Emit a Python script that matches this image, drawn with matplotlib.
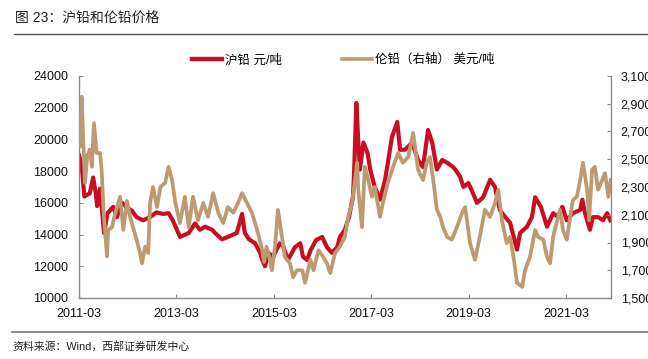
import matplotlib
matplotlib.use("Agg")
import matplotlib.pyplot as plt
import matplotlib.ticker as mticker
from matplotlib.lines import Line2D
import pandas as pd

plt.rcParams['font.family'] = ['Liberation Sans', 'Noto Sans CJK SC', 'DejaVu Sans']

# ---- data ----
shfe_dates = ["2011-03-01", "2011-03-21", "2011-04-10", "2011-05-21", "2011-06-15", "2011-07-05",
              "2011-07-15", "2011-08-06", "2011-09-05", "2011-10-01", "2011-11-12", "2011-12-10",
              "2012-01-18", "2012-02-24", "2012-04-01", "2012-05-06", "2012-06-24", "2012-08-15",
              "2012-10-01", "2012-11-21", "2013-01-01", "2013-02-01", "2013-03-28", "2013-06-01",
              "2013-07-18", "2013-08-24", "2013-10-01", "2013-11-24", "2013-12-15", "2014-02-06",
              "2014-03-21", "2014-05-27", "2014-07-06", "2014-07-27", "2014-08-27", "2014-10-12",
              "2014-11-18", "2014-12-05", "2014-12-25", "2015-01-18", "2015-02-24", "2015-04-15",
              "2015-05-09", "2015-06-15", "2015-08-06", "2015-09-15", "2015-10-06", "2015-11-06",
              "2015-12-01", "2016-01-12", "2016-02-27", "2016-04-03", "2016-05-09", "2016-06-18",
              "2016-07-09", "2016-08-15", "2016-09-15", "2016-10-15", "2016-10-24", "2016-11-09",
              "2016-11-24", "2016-12-06", "2017-01-01", "2017-02-01", "2017-02-21", "2017-03-27",
              "2017-05-06", "2017-06-12", "2017-07-03", "2017-08-03", "2017-09-12", "2017-10-03",
              "2017-11-09", "2018-01-01", "2018-02-15", "2018-03-24", "2018-05-01", "2018-06-01",
              "2018-07-06", "2018-08-15", "2018-09-27", "2018-11-06", "2018-11-21", "2018-12-27",
              "2019-01-21", "2019-02-27", "2019-03-24", "2019-05-03", "2019-06-18", "2019-08-09",
              "2019-09-15", "2019-10-21", "2019-12-01", "2020-01-06", "2020-02-27", "2020-03-21",
              "2020-05-12", "2020-06-18", "2020-07-12", "2020-08-24", "2020-10-09", "2020-11-24",
              "2021-01-01", "2021-02-01", "2021-03-06", "2021-04-21", "2021-06-15", "2021-07-01",
              "2021-07-21", "2021-08-27", "2021-09-18", "2021-10-27", "2021-12-03", "2022-01-03",
              "2022-01-27"]
shfe_values = [19000, 18400, 16400, 16600, 17600, 16600,
               15800, 16900, 14100, 15350, 15750, 15100,
               16000, 15700, 15500, 15100, 14900, 15100,
               15400, 15300, 15350, 14900, 13850, 14100,
               14700, 14300, 14500, 14300, 14100, 13700,
               13850, 14100, 15300, 14100, 13700, 13450,
               12850, 12400, 12000, 12850, 12600, 13450,
               13300, 12400, 13200, 13450, 12600, 12400,
               13000, 13650, 13850, 13200, 12850, 13200,
               13850, 14300, 15100, 16400, 18100, 22300,
               19800, 18100, 19800, 19150, 18100, 17000,
               16200, 17450, 18500, 20150, 21100, 19350,
               19350, 19800, 18700, 18250, 20600, 19800,
               18100, 18700, 18500, 18250, 18100, 17650,
               17000, 17250, 16800, 16000, 16350, 17450,
               17000, 15550, 15100, 14750, 13050, 14100,
               14500, 15100, 16350, 15750, 14500, 15350,
               15100, 15750, 14900, 15350, 15550, 16200,
               15350, 14300, 15100, 15100, 14900, 15350,
               14900]

lme_dates = ["2011-03-01", "2011-03-10", "2011-03-21", "2011-04-01", "2011-04-15", "2011-05-01",
             "2011-05-21", "2011-06-06", "2011-06-21", "2011-07-12", "2011-08-06", "2011-08-18",
             "2011-09-01", "2011-09-27", "2011-10-06", "2011-11-03", "2011-11-27", "2012-01-03",
             "2012-01-27", "2012-02-24", "2012-03-18", "2012-04-09", "2012-05-06", "2012-06-01",
             "2012-06-15", "2012-07-09", "2012-08-01", "2012-08-15", "2012-09-06", "2012-10-06",
             "2012-11-01", "2012-12-06", "2013-01-01", "2013-01-27", "2013-02-21", "2013-03-27",
             "2013-05-03", "2013-06-01", "2013-07-03", "2013-08-09", "2013-09-18", "2013-10-24",
             "2013-12-01", "2014-01-09", "2014-02-15", "2014-03-21", "2014-05-01", "2014-06-06",
             "2014-07-06", "2014-08-12", "2014-09-18", "2014-10-27", "2014-12-03", "2014-12-18",
             "2015-01-05", "2015-01-25", "2015-02-15", "2015-03-10", "2015-04-01", "2015-05-01",
             "2015-05-24", "2015-06-30", "2015-07-24", "2015-08-21", "2015-10-01", "2015-10-21",
             "2015-12-01", "2015-12-24", "2016-01-30", "2016-03-06", "2016-04-03", "2016-04-27",
             "2016-06-03", "2016-07-09", "2016-08-15", "2016-09-09", "2016-10-09", "2016-10-30",
             "2016-11-15", "2016-11-24", "2016-12-21", "2017-01-12", "2017-02-06", "2017-03-06",
             "2017-03-27", "2017-05-06", "2017-05-27", "2017-07-03", "2017-08-12", "2017-09-18",
             "2017-10-24", "2017-12-03", "2018-01-09", "2018-02-15", "2018-03-24", "2018-04-21",
             "2018-05-15", "2018-06-09", "2018-07-06", "2018-08-01", "2018-08-21", "2018-09-21",
             "2018-10-27", "2018-12-03", "2019-01-12", "2019-02-03", "2019-03-12", "2019-04-18",
             "2019-05-24", "2019-07-01", "2019-08-09", "2019-09-15", "2019-10-09", "2019-11-06",
             "2019-12-12", "2020-01-06", "2020-02-01", "2020-02-27", "2020-04-06", "2020-04-27",
             "2020-06-03", "2020-07-12", "2020-08-03", "2020-09-12", "2020-10-09", "2020-11-01",
             "2020-11-24", "2020-12-24", "2021-01-15", "2021-02-06", "2021-03-06", "2021-04-01",
             "2021-04-21", "2021-05-21", "2021-06-15", "2021-07-06", "2021-08-06", "2021-08-21",
             "2021-09-12", "2021-10-03", "2021-10-27", "2021-11-27", "2021-12-18", "2022-01-12",
             "2022-01-30"]
lme_values = [2730, 2590, 2950, 2660, 2330, 2520,
              2570, 2445, 2760, 2545, 2545, 2420,
              2130, 1800, 1990, 2010, 2110, 2230,
              1990, 2200, 2085, 2010, 1920, 1825,
              1750, 1870, 1825, 2185, 2300, 2155,
              2300, 2330, 2445, 2350, 2185, 2040,
              2230, 2010, 2230, 2060, 2185, 2085,
              2255, 2115, 2040, 2155, 2115, 2185,
              2255, 2185, 2115, 1990, 1850, 1760,
              1870, 1800, 1700, 1870, 2135, 1940,
              1795, 1750, 1650, 1700, 1700, 1610,
              1775, 1700, 1845, 1795, 1750, 1680,
              1825, 1870, 1940, 2085, 2185, 2350,
              2475, 2280, 2010, 2445, 2350, 2230,
              2300, 2085, 2185, 2330, 2445, 2545,
              2475, 2515, 2690, 2425, 2350, 2475,
              2515, 2350, 2135, 2085, 2010, 1940,
              1920, 2010, 2115, 2155, 1895, 1775,
              1940, 2135, 2085, 2185, 2280, 2060,
              1895, 1940, 1795, 1610, 1580, 1700,
              1795, 1990, 1940, 1920, 1795, 1750,
              1940, 2060, 2135, 1990, 1920, 2085,
              2205, 2230, 2350, 2475, 2280, 2060,
              2425, 2445, 2280, 2350, 2400, 2230,
              2350]

left_ticks = [10000, 12000, 14000, 16000, 18000, 20000, 22000, 24000]
right_ticks = [1500, 1700, 1900, 2100, 2300, 2500, 2700, 2900, 3100]
x_tick_labels = ["2011-03", "2013-03", "2015-03", "2017-03", "2019-03", "2021-03"]

title_text = "图 23：沪铅和伦铅价格"
shfe_label = "沪铅 元/吨"
lme_label = "伦铅（右轴） 美元/吨"
source_text = "资料来源：Wind，西部证券研发中心"

RED = "#C70F21"
TAN = "#BD9A72"
SPINE = "#8C8C8C"

# ---- figure ----
fig = plt.figure(figsize=(6.48, 3.59), dpi=100)
ax = fig.add_axes([79 / 648, 1 - 298 / 359, (611 - 79) / 648, (298 - 76) / 359])
ax2 = ax.twinx()

ax.plot(pd.to_datetime(shfe_dates), shfe_values, color=RED, lw=3.0, solid_joinstyle="round")
ax2.plot(pd.to_datetime(lme_dates), lme_values, color=TAN, lw=2.7, solid_joinstyle="round")

ax.set_zorder(2)
ax.patch.set_visible(False)
ax2.set_zorder(3)

ax.set_ylim(10000, 24000)
ax2.set_ylim(1500, 3100)
ax.set_yticks(left_ticks)
ax2.set_yticks(right_ticks)
ax2.yaxis.set_major_formatter(mticker.FuncFormatter(lambda v, p: f"{v:,.0f}"))

ax.set_xlim(pd.Timestamp("2011-03-01"), pd.Timestamp("2022-02-01"))
ax.set_xticks(pd.to_datetime([t + "-01" for t in x_tick_labels]))
ax.set_xticklabels(x_tick_labels)

for a in (ax, ax2):
    for s in a.spines.values():
        s.set_color(SPINE)
        s.set_linewidth(1.0)
    a.spines["top"].set_visible(False)
ax.spines["right"].set_visible(False)
ax2.spines["left"].set_visible(False)
ax2.spines["bottom"].set_visible(False)

ax.tick_params(axis="y", direction="in", length=3, color=SPINE, labelsize=9, pad=8, labelcolor="#111111")
ax.tick_params(axis="x", direction="in", length=3, color=SPINE, labelsize=9, pad=7, labelcolor="#111111")
ax2.tick_params(axis="y", direction="in", length=3, color=SPINE, labelsize=9, pad=7, labelcolor="#111111")

# title and rules
fig.text(15 / 648, 1 - 18 / 359, title_text, fontsize=10, va="center", ha="left", color="#222222")
fig.add_artist(Line2D([14 / 648, 1.0], [1 - 34 / 359, 1 - 34 / 359], color="#555555", lw=1.0))
fig.add_artist(Line2D([12 / 648, 1.0], [1 - 332 / 359, 1 - 332 / 359], color="#777777", lw=1.2))
fig.text(12 / 648, 1 - 346 / 359, source_text, fontsize=7.8, va="center", ha="left", color="#222222")

# legend
handles = [Line2D([], [], color=RED, lw=3.2), Line2D([], [], color=TAN, lw=2.6)]
fig.legend(handles, [shfe_label, lme_label], loc="center", bbox_to_anchor=(343 / 648, 1 - 60 / 359),
           ncol=2, frameon=False, fontsize=9, handlelength=2.4, handletextpad=0.25,
           columnspacing=4.8, borderpad=0, borderaxespad=0)

fig.savefig("out.png", dpi=100)
